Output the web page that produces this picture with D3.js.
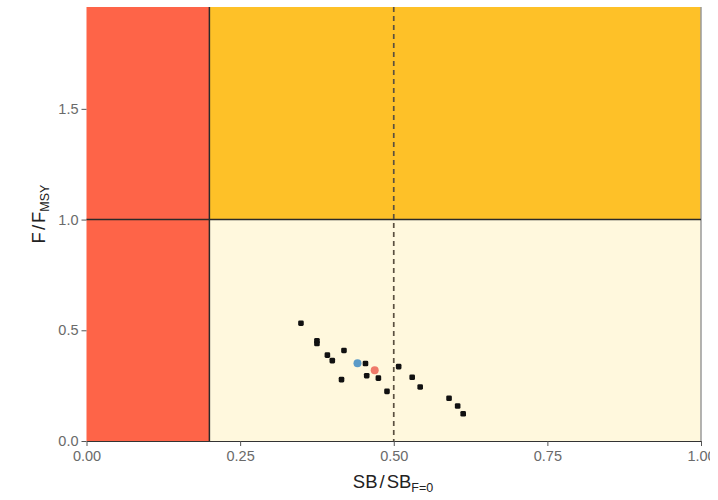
<!DOCTYPE html>
<html>
<head>
<meta charset="utf-8">
<script src="https://cdn.jsdelivr.net/npm/d3@7"></script>
<style>
  html, body { margin: 0; padding: 0; background: #fff; }
  svg { display: block; font-family: "Liberation Sans", Arial, sans-serif; }
</style>
</head>
<body>
<svg id="chart" width="718" height="500"></svg>
<script>
// Stock status: spawning biomass depletion vs relative fishing mortality
const sbRatio = [0.349, 0.375, 0.375, 0.392, 0.419, 0.400, 0.415, 0.454, 0.456, 0.475,
                 0.489, 0.508, 0.530, 0.543, 0.590, 0.604, 0.613];
const fRatio  = [0.532, 0.453, 0.440, 0.388, 0.409, 0.363, 0.277, 0.350, 0.295, 0.284,
                 0.224, 0.336, 0.288, 0.244, 0.193, 0.158, 0.123];
// Highlighted estimates (median and latest)
const hiSb    = [0.441, 0.469];
const hiF     = [0.351, 0.320];
const hiColor = ["#5b9bc8", "#ef7a6a"];

const xTicks = [0, 0.25, 0.5, 0.75, 1.0];
const xTickLabels = ["0.00", "0.25", "0.50", "0.75", "1.00"];
const yTicks = [0, 0.5, 1.0, 1.5];
const yTickLabels = ["0.0", "0.5", "1.0", "1.5"];

const limitRef = 0.2;   // limit reference point
const targetRef = 0.5;  // target depletion
const fLimit = 1.0;
const yMax = 1.96;

const svg = d3.select("#chart");
const m = { left: 86.5, right: 701, top: 7, bottom: 441 };

const x = d3.scaleLinear().domain([0, 1]).range([m.left, m.right]);
const y = d3.scaleLinear().domain([0, yMax]).range([m.bottom, m.top]);

// clip everything to the visible frame width
svg.append("clipPath").attr("id", "frame")
  .append("rect").attr("x", 0).attr("y", 0).attr("width", 710).attr("height", 500);
const root = svg.append("g").attr("clip-path", "url(#frame)");

// zones
const zones = [
  { x0: 0, x1: limitRef, y0: 0, y1: yMax, fill: "#fe6448" },
  { x0: limitRef, x1: 1, y0: fLimit, y1: yMax, fill: "#fec128" },
  { x0: limitRef, x1: 1, y0: 0, y1: fLimit, fill: "#fff8dd" }
];
root.selectAll("rect.zone").data(zones).enter().append("rect")
  .attr("class", "zone")
  .attr("x", d => x(d.x0))
  .attr("y", d => y(d.y1))
  .attr("width", d => x(d.x1) - x(d.x0))
  .attr("height", d => y(d.y0) - y(d.y1))
  .attr("fill", d => d.fill);

// right frame edge
root.append("line")
  .attr("x1", x(1)).attr("x2", x(1)).attr("y1", y(yMax)).attr("y2", y(0))
  .attr("stroke", "#9a9a9a").attr("stroke-width", 1.5);

// reference lines
root.append("line")
  .attr("x1", x(limitRef)).attr("x2", x(limitRef)).attr("y1", y(yMax)).attr("y2", y(0))
  .attr("stroke", "#2a2a2a").attr("stroke-width", 1.5);
root.append("line")
  .attr("x1", x(0)).attr("x2", x(1)).attr("y1", y(fLimit)).attr("y2", y(fLimit))
  .attr("stroke", "#2a2a2a").attr("stroke-width", 1.4);
root.append("line")
  .attr("x1", x(targetRef)).attr("x2", x(targetRef)).attr("y1", y(yMax)).attr("y2", y(0))
  .attr("stroke", "#5a5040").attr("stroke-width", 1.7)
  .attr("stroke-dasharray", "5,4");

// points
const pts = sbRatio.map((v, i) => ({ sb: v, f: fRatio[i] }));
root.selectAll("rect.pt").data(pts).enter().append("rect")
  .attr("class", "pt")
  .attr("x", d => x(d.sb) - 2.8)
  .attr("y", d => y(d.f) - 2.8)
  .attr("width", 5.6).attr("height", 5.6)
  .attr("rx", 1.4)
  .attr("fill", "#111");

const hi = hiSb.map((v, i) => ({ sb: v, f: hiF[i], c: hiColor[i] }));
root.selectAll("circle.hi").data(hi).enter().append("circle")
  .attr("class", "hi")
  .attr("cx", d => x(d.sb)).attr("cy", d => y(d.f))
  .attr("r", 4)
  .attr("fill", d => d.c);

// axes
const xAxis = d3.axisBottom(x).tickValues(xTicks)
  .tickFormat((d, i) => xTickLabels[i]).tickSize(5).tickPadding(5).tickSizeOuter(0);
const gx = root.append("g").attr("transform", `translate(0,${m.bottom})`).call(xAxis);
gx.select(".domain").attr("stroke", "#333").attr("stroke-width", 1.2);
gx.selectAll(".tick line").attr("stroke", "#555");
gx.selectAll(".tick text").attr("fill", "#6a6a6a").attr("font-size", 14.5);

const yAxis = d3.axisLeft(y).tickValues(yTicks)
  .tickFormat((d, i) => yTickLabels[i]).tickSize(5).tickPadding(3).tickSizeOuter(0);
const gy = root.append("g").attr("transform", `translate(${m.left},0)`).call(yAxis);
gy.select(".domain").remove();
gy.selectAll(".tick line").attr("stroke", "#555");
gy.selectAll(".tick text").attr("fill", "#6a6a6a").attr("font-size", 14.5);

// axis titles
const xt = svg.append("text")
  .attr("x", 393).attr("y", 488)
  .attr("text-anchor", "middle").attr("font-size", 18.5).attr("fill", "#222");
xt.append("tspan").text("SB");
xt.append("tspan").attr("dx", 2).text("/");
xt.append("tspan").attr("dx", 2).text("SB");
xt.append("tspan").attr("font-size", 12.5).attr("dy", 4).text("F=0");

const yt = svg.append("text")
  .attr("transform", "translate(45,214) rotate(-90)")
  .attr("text-anchor", "middle").attr("font-size", 18.5).attr("fill", "#222");
yt.append("tspan").text("F");
yt.append("tspan").attr("dx", 2).text("/");
yt.append("tspan").attr("dx", 2).text("F");
yt.append("tspan").attr("font-size", 12.5).attr("dy", 4).text("MSY");
</script>
</body>
</html>
